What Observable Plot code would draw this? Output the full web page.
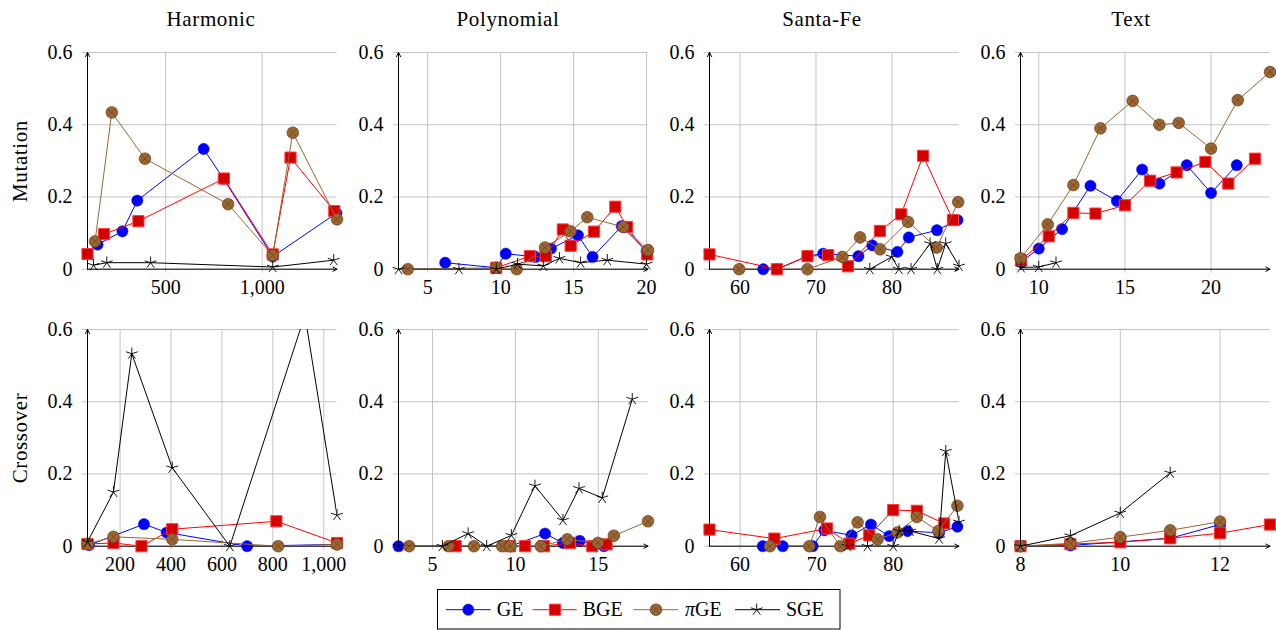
<!DOCTYPE html>
<html>
<head>
<meta charset="utf-8">
<script src="https://cdn.jsdelivr.net/npm/d3@7"></script>
<script src="https://cdn.jsdelivr.net/npm/@observablehq/plot@0.6"></script>
<style>
  html, body { margin: 0; padding: 0; background: #fff; }
  body { width: 1276px; height: 630px; overflow: hidden; font-family: "Liberation Serif", serif; color: #000; }
  #root { position: relative; width: 1276px; height: 630px; }
  .panel { position: absolute; }
  .panel svg { overflow: visible; }
  .panel svg text { font-family: "Liberation Serif", serif !important; }
  .title { position: absolute; font-size: 21px; line-height: 21px; transform: translateX(-50%); white-space: nowrap; letter-spacing: 0.6px; }
  .rowlabel { position: absolute; font-size: 21px; line-height: 24px; transform: translate(-50%, -50%) rotate(-90deg); white-space: nowrap; letter-spacing: 0.6px; }
  #legend { position: absolute; left: 437px; top: 589px; }
</style>
</head>
<body>
<div id="root"></div>
<script>
// ---------------- data ----------------
const columns = ["Harmonic", "Polynomial", "Santa-Fe", "Text"];
const rows = ["Mutation", "Crossover"];
const seriesNames = ["GE", "BGE", "πGE", "SGE"];
const yTicks = [0, 0.2, 0.4, 0.6];

// Harmonic / Mutation
const harmonicMutationGE   = [[147,0.068],[276,0.105],[353,0.19],[697,0.333],[800,0.25],[1055,0.035],[1385,0.155]];
const harmonicMutationBGE  = [[95,0.042],[181,0.097],[359,0.133],[802,0.251],[1055,0.041],[1147,0.309],[1374,0.161]];
const harmonicMutationPiGE = [[134,0.077],[221,0.434],[393,0.306],[824,0.18],[1055,0.038],[1159,0.378],[1388,0.138]];
const harmonicMutationSGE  = [[126,0.011],[195,0.018],[422,0.018],[1055,0.006],[1371,0.025]];
const harmonicMutationXTicks = [500, 1000];

// Polynomial / Mutation
const polynomialMutationGE   = [[6.2,0.018],[9.7,0.004],[10.35,0.043],[12.4,0.034],[13.45,0.057],[15.3,0.094],[16.3,0.034],[18.3,0.119],[20.0,0.05]];
const polynomialMutationBGE  = [[9.7,0.004],[12.0,0.036],[13.1,0.036],[14.26,0.11],[14.8,0.065],[16.4,0.104],[17.86,0.173],[18.67,0.117],[20.05,0.041]];
const polynomialMutationPiGE = [[3.64,0],[9.7,0.004],[11.1,0],[13.04,0.06],[14.79,0.105],[15.94,0.144],[18.4,0.117],[20.1,0.053]];
const polynomialMutationSGE  = [[3.0,0],[7.14,0],[9.7,0],[11.16,0.014],[12.93,0.009],[14.03,0.03],[15.48,0.018],[17.31,0.025],[20.0,0.014]];
const polynomialMutationXTicks = [5, 10, 15, 20];

// Santa-Fe / Mutation
const santaFeMutationGE   = [[63.06,0],[64.86,0],[68.88,0.036],[70.94,0.043],[75.58,0.036],[77.4,0.066],[80.7,0.048],[82.2,0.088],[85.9,0.108],[88.6,0.136]];
const santaFeMutationBGE  = [[56,0.041],[64.86,0],[68.88,0.036],[71.6,0.039],[74.2,0.008],[78.4,0.106],[81.2,0.152],[84.07,0.314],[88.0,0.136]];
const santaFeMutationPiGE = [[59.9,0],[68.88,0],[73.48,0.034],[75.8,0.088],[78.42,0.055],[82.1,0.131],[85.86,0.06],[88.7,0.186]];
const santaFeMutationSGE  = [[77.07,0],[79.96,0.034],[80.9,0],[82.5,0],[85.0,0.071],[85.95,0],[87.05,0.071],[88.8,0.009]];
const santaFeMutationXTicks = [60, 70, 80];

// Text / Mutation
const textMutationGE   = [[8.97,0.02],[10.0,0.057],[11.35,0.111],[13.0,0.231],[14.53,0.189],[16.0,0.276],[17.0,0.237],[18.59,0.288],[20.0,0.211],[21.49,0.288]];
const textMutationBGE  = [[8.97,0.025],[10.58,0.091],[12.01,0.156],[13.29,0.154],[15.0,0.177],[16.46,0.245],[18.0,0.268],[19.67,0.297],[21.0,0.237],[22.55,0.306]];
const textMutationPiGE = [[8.94,0.03],[10.52,0.124],[12.01,0.233],[13.58,0.39],[15.45,0.466],[17.0,0.4],[18.12,0.405],[20.0,0.334],[21.55,0.468],[23.42,0.546]];
const textMutationSGE  = [[8.97,0.005],[10.0,0.006],[11.0,0.018]];
const textMutationXTicks = [10, 15, 20];

// Harmonic / Crossover
const harmonicCrossoverGE   = [[78,0.003],[294,0.061],[383,0.038],[699,0],[1052,0.005]];
const harmonicCrossoverBGE  = [[72,0.006],[174,0.009],[284,0],[405,0.047],[814,0.069],[1052,0.009]];
const harmonicCrossoverPiGE = [[72,0.006],[174,0.026],[405,0.019],[821,0],[1052,0.005]];
const harmonicCrossoverSGE  = [[72,0.012],[174,0.15],[246,0.533],[405,0.217],[631,0],[926,0.64],[1052,0.086]];
const harmonicCrossoverXTicks = [200, 400, 600, 800, 1000];

// Polynomial / Crossover
const polynomialCrossoverGE   = [[2.95,0],[9.7,0],[11.79,0.035],[12.87,0.009],[13.88,0.015],[15.34,0]];
const polynomialCrossoverBGE  = [[6.4,0],[9.68,0],[10.58,0],[11.73,0],[13.29,0.009],[14.64,0],[15.5,0.005]];
const polynomialCrossoverPiGE = [[3.59,0],[5.96,0],[7.5,0],[9.2,0],[9.7,0],[11.53,0],[13.13,0.019],[14.98,0.009],[15.94,0.029],[18.0,0.069]];
const polynomialCrossoverSGE  = [[2.95,0],[5.6,0],[7.15,0.035],[8.27,0],[9.76,0.03],[11.18,0.167],[12.87,0.072],[13.84,0.16],[15.24,0.134],[17.05,0.407]];
const polynomialCrossoverXTicks = [5, 10, 15];

// Santa-Fe / Crossover
const santaFeCrossoverGE   = [[62.96,0],[65.57,0],[69.48,0],[71.0,0.044],[74.56,0.03],[77.09,0.06],[79.48,0.028],[81.87,0.042],[86.0,0.037],[88.39,0.054]];
const santaFeCrossoverBGE  = [[56,0.046],[64.48,0.021],[71.35,0.049],[74.26,0.007],[76.87,0.03],[80.0,0.1],[83.09,0.098],[86.65,0.063]];
const santaFeCrossoverPiGE = [[63.9,0],[69.04,0],[70.43,0.081],[73.09,0],[75.35,0.066],[77.96,0.019],[80.57,0.038],[83.09,0.081],[85.9,0.042],[88.39,0.112]];
const santaFeCrossoverSGE  = [[74.04,0],[76.65,0],[80.0,0],[80.78,0.042],[82.2,0.042],[86.0,0.021],[86.87,0.263],[88.6,0.067]];
const santaFeCrossoverXTicks = [60, 70, 80];

// Text / Crossover
const textCrossoverGE   = [[8,0],[9,0.002],[10,0.012],[11,0.022],[12,0.06]];
const textCrossoverBGE  = [[8,0],[9,0.006],[10,0.011],[11,0.022],[12,0.036],[13,0.06]];
const textCrossoverPiGE = [[8,0],[9,0.008],[10,0.025],[11,0.044],[12,0.068]];
const textCrossoverSGE  = [[8,0],[9,0.029],[10,0.092],[11,0.203]];
const textCrossoverXTicks = [8, 10, 12];

// ---------------- symbols & styles ----------------
const starSymbol = {
  draw(ctx, size) {
    const r = Math.sqrt(size / Math.PI);
    for (let i = 0; i < 5; i++) {
      const a = -Math.PI / 2 + i * 2 * Math.PI / 5;
      ctx.moveTo(0, 0);
      ctx.lineTo(r * Math.cos(a), r * Math.sin(a));
    }
  }
};
const otimesSymbol = {
  draw(ctx, size) {
    const r = Math.sqrt(size / Math.PI);
    ctx.moveTo(r, 0);
    ctx.arc(0, 0, r, 0, 2 * Math.PI);
    ctx.closePath();
    const d = r * 0.7071;
    ctx.moveTo(-d, -d); ctx.lineTo(d, d);
    ctx.moveTo(-d, d); ctx.lineTo(d, -d);
  }
};
const seriesStyles = [
  {line: "#0000ff", symbol: "circle", r: 5.6, fill: "#0000ff", stroke: "#0000ff", sw: 0.5},
  {line: "#ff0000", symbol: "square", r: 6.3, fill: "#d40000", stroke: "#ff3c3c", sw: 1},
  {line: "#9a6634", symbol: otimesSymbol, r: 5.8, fill: "#9c6632", stroke: "#6b4520", sw: 0.8},
  {line: "#000000", symbol: starSymbol, r: 6.2, fill: "none", stroke: "#000000", sw: 0.9}
];

const panels = [
  {row: 0, col: 0, series: [harmonicMutationGE, harmonicMutationBGE, harmonicMutationPiGE, harmonicMutationSGE], xTicks: harmonicMutationXTicks},
  {row: 0, col: 1, series: [polynomialMutationGE, polynomialMutationBGE, polynomialMutationPiGE, polynomialMutationSGE], xTicks: polynomialMutationXTicks},
  {row: 0, col: 2, series: [santaFeMutationGE, santaFeMutationBGE, santaFeMutationPiGE, santaFeMutationSGE], xTicks: santaFeMutationXTicks},
  {row: 0, col: 3, series: [textMutationGE, textMutationBGE, textMutationPiGE, textMutationSGE], xTicks: textMutationXTicks},
  {row: 1, col: 0, series: [harmonicCrossoverGE, harmonicCrossoverBGE, harmonicCrossoverPiGE, harmonicCrossoverSGE], xTicks: harmonicCrossoverXTicks},
  {row: 1, col: 1, series: [polynomialCrossoverGE, polynomialCrossoverBGE, polynomialCrossoverPiGE, polynomialCrossoverSGE], xTicks: polynomialCrossoverXTicks},
  {row: 1, col: 2, series: [santaFeCrossoverGE, santaFeCrossoverBGE, santaFeCrossoverPiGE, santaFeCrossoverSGE], xTicks: santaFeCrossoverXTicks},
  {row: 1, col: 3, series: [textCrossoverGE, textCrossoverBGE, textCrossoverPiGE, textCrossoverSGE], xTicks: textCrossoverXTicks}
];

// ---------------- layout ----------------
const root = document.getElementById("root");
const frameLefts = [87, 397.5, 708.5, 1019.5];
const frameTops = [52.3, 329.3];
const frameW = 249.5, frameH = 216.7;
const mL = 60, mR = 12.5, mT = 14, mB = 36.3;
const gridColor = "#c3c3c3";
const fontFamily = '"Liberation Serif", serif';
const tickFontSize = 20;

for (const p of panels) {
  const rowsData = p.series.map((arr, k) => arr.map(([x, y]) => ({x, y, s: seriesNames[k]})));
  const all = rowsData.flat();
  const [xmin, xmax] = d3.extent(all, d => d.x);
  const marks = [
    Plot.gridY(yTicks, {stroke: gridColor, strokeOpacity: 1, strokeWidth: 1}),
    Plot.gridX(p.xTicks, {stroke: gridColor, strokeOpacity: 1, strokeWidth: 1}),
    Plot.axisY(yTicks, {label: null, tickSize: 5, tickPadding: 10, stroke: gridColor, fill: "#000", tickFormat: d => String(d), fontSize: tickFontSize, fontFamily}),
    Plot.axisX(p.xTicks, {label: null, tickSize: 4, tickPadding: 7, stroke: gridColor, fill: "#000", tickFormat: d3.format(","), fontSize: tickFontSize, fontFamily}),
    Plot.arrow([{x1: xmin, y1: 0, x2: xmax, y2: 0}], {x1: "x1", y1: "y1", x2: "x2", y2: "y2", stroke: "#000", strokeWidth: 1, headLength: 7, headAngle: 55}),
    Plot.arrow([{x1: xmin, y1: 0, x2: xmin, y2: 0.6}], {x1: "x1", y1: "y1", x2: "x2", y2: "y2", stroke: "#000", strokeWidth: 1, headLength: 7, headAngle: 55})
  ];
  rowsData.forEach((data, k) => {
    const st = seriesStyles[k];
    marks.push(Plot.line(data, {x: "x", y: "y", stroke: st.line, strokeWidth: 1, clip: true}));
    marks.push(Plot.dot(data.filter(d => d.y <= 0.6), {x: "x", y: "y", symbol: st.symbol, r: st.r, fill: st.fill, stroke: st.stroke, strokeWidth: st.sw}));
  });
  const W = mL + frameW + mR, H = mT + frameH + mB;
  const chart = Plot.plot({
    width: W, height: H,
    marginLeft: mL, marginRight: mR, marginTop: mT, marginBottom: mB,
    x: {domain: [xmin, xmax], axis: null, label: null},
    y: {domain: [0, 0.6], axis: null, label: null},
    style: {background: "transparent", overflow: "visible", fontFamily, fontSize: tickFontSize + "px", color: "#000", maxWidth: "none"},
    marks
  });
  const div = document.createElement("div");
  div.className = "panel";
  div.style.left = (frameLefts[p.col] - mL) + "px";
  div.style.top = (frameTops[p.row] - mT) + "px";
  div.style.width = W + "px";
  div.style.height = H + "px";
  div.appendChild(chart);
  root.appendChild(div);
}

// column titles
const titleCenters = [211, 508, 822, 1131];
columns.forEach((c, i) => {
  const t = document.createElement("div");
  t.className = "title";
  t.textContent = c;
  t.style.left = titleCenters[i] + "px";
  t.style.top = "9px";
  root.appendChild(t);
});
// row labels
const rowCenters = [160.5, 437.5];
rows.forEach((r, i) => {
  const t = document.createElement("div");
  t.className = "rowlabel";
  t.textContent = r;
  t.style.left = "20px";
  t.style.top = rowCenters[i] + "px";
  root.appendChild(t);
});

// legend
const legendEntries = [
  {lx1: 9, lx2: 53.7, mx: 31.3, tx: 59.7},
  {lx1: 95.7, lx2: 139.7, mx: 118, tx: 145.7},
  {lx1: 196.3, lx2: 241.3, mx: 219, tx: 248},
  {lx1: 298, lx2: 343, mx: 319.7, tx: 349}
];
const ns = "http://www.w3.org/2000/svg";
const leg = document.createElementNS(ns, "svg");
leg.setAttribute("id", "legend");
leg.setAttribute("width", 404);
leg.setAttribute("height", 41);
leg.style.fontFamily = fontFamily;
leg.style.fontSize = "20px";
const box = document.createElementNS(ns, "rect");
box.setAttribute("x", 0.5); box.setAttribute("y", 0.5);
box.setAttribute("width", 402.5); box.setAttribute("height", 39.5);
box.setAttribute("fill", "#fff"); box.setAttribute("stroke", "#000"); box.setAttribute("stroke-width", 1);
leg.appendChild(box);
const symbolTypes = [d3.symbolCircle, d3.symbolSquare, otimesSymbol, starSymbol];
seriesNames.forEach((name, k) => {
  const e = legendEntries[k], st = seriesStyles[k], cy = 20.7;
  const ln = document.createElementNS(ns, "line");
  ln.setAttribute("x1", e.lx1); ln.setAttribute("x2", e.lx2);
  ln.setAttribute("y1", cy); ln.setAttribute("y2", cy);
  ln.setAttribute("stroke", st.line); ln.setAttribute("stroke-width", 1);
  leg.appendChild(ln);
  const path = document.createElementNS(ns, "path");
  path.setAttribute("d", d3.symbol(symbolTypes[k], st.r * st.r * Math.PI)());
  path.setAttribute("transform", `translate(${e.mx},${cy})`);
  path.setAttribute("fill", st.fill); path.setAttribute("stroke", st.stroke);
  path.setAttribute("stroke-width", st.sw);
  leg.appendChild(path);
  const tx = document.createElementNS(ns, "text");
  tx.setAttribute("x", e.tx); tx.setAttribute("y", 27);
  if (name === "πGE") {
    const a = document.createElementNS(ns, "tspan");
    a.setAttribute("font-style", "italic"); a.textContent = "π";
    tx.appendChild(a);
    tx.appendChild(document.createTextNode("GE"));
  } else {
    tx.textContent = name;
  }
  leg.appendChild(tx);
});
root.appendChild(leg);
</script>
</body>
</html>
